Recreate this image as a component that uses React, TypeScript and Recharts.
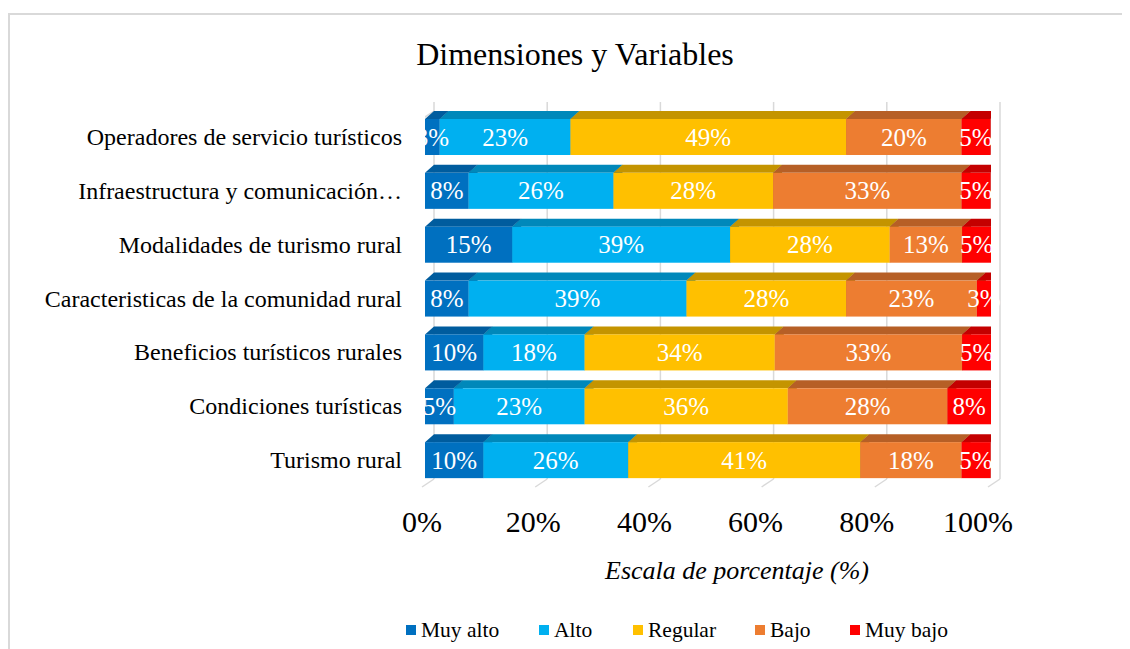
import React from 'react';
import { BarChart, Bar, XAxis, YAxis, CartesianGrid, LabelList } from 'recharts';

const categories = [
  'Operadores de servicio turísticos',
  'Infraestructura y comunicación…',
  'Modalidades de turismo rural',
  'Caracteristicas de la comunidad rural',
  'Beneficios turísticos rurales',
  'Condiciones turísticas',
  'Turismo rural',
];
const muyAlto = [2.6, 7.7, 15.4, 7.7, 10.3, 5.1, 10.3];
const alto = [23.1, 25.6, 38.5, 38.5, 17.9, 23.1, 25.6];
const regular = [48.7, 28.2, 28.2, 28.2, 33.6, 35.9, 41.0];
const bajo = [20.4, 33.3, 12.8, 23.1, 33.1, 28.2, 17.9];
const muyBajo = [5.1, 5.1, 5.1, 2.6, 5.1, 7.7, 5.1];
const xTicks = [0, 20, 40, 60, 80, 100];

const FONT = '"Liberation Serif", "Times New Roman", serif';
const DX = 9;
const DY = 8;
const GRID = '#D9D9D9';

const rows = categories.map((name, i) => ({
  name,
  muyAlto: muyAlto[i],
  alto: alto[i],
  regular: regular[i],
  bajo: bajo[i],
  muyBajo: muyBajo[i],
}));

const series = [
  { key: 'muyAlto', name: 'Muy alto', color: '#0070C0', top: '#005C9E', side: '#004B82' },
  { key: 'alto', name: 'Alto', color: '#00B0F0', top: '#0088BA', side: '#00709A' },
  { key: 'regular', name: 'Regular', color: '#FFC000', top: '#C49400', side: '#A37B00' },
  { key: 'bajo', name: 'Bajo', color: '#ED7D31', top: '#B65F26', side: '#9A501F' },
  { key: 'muyBajo', name: 'Muy bajo', color: '#FF0000', top: '#C40000', side: '#A00000' },
];

const make3D = (s: any, first: boolean) => (props: any) => {
  const { x, y, width, height, index, background } = props;
  if (width == null || height == null) return <g />;
  const w = Math.max(0, width);
  const parts: any[] = [];
  if (first && background) {
    const bx = background.x;
    const yb = background.y + background.height;
    parts.push(
      <line key="wb" x1={bx - 3} y1={yb} x2={bx + DX} y2={yb - DY} stroke={GRID} strokeWidth={1.5} />
    );
    if (index === 0) {
      parts.push(
        <line key="wt" x1={bx - 3} y1={background.y} x2={bx + DX} y2={background.y - DY} stroke={GRID} strokeWidth={1.5} />
      );
    }
  }
  return (
    <g>
      {parts}
      <polygon
        points={`${x},${y} ${x + DX},${y - DY} ${x + w + DX},${y - DY} ${x + w},${y}`}
        fill={s.top}
      />
      <polygon
        points={`${x + w},${y} ${x + w + DX},${y - DY} ${x + w + DX},${y + height - DY} ${x + w},${y + height}`}
        fill={s.side}
      />
      <rect x={x} y={y} width={w} height={height} fill={s.color} />
    </g>
  );
};

const makeLabel = (first: boolean, key: string) => (p: any) => {
  const { x, y, width, height, value, index } = p;
  const cx = x + width / 2;
  const cy = y + height / 2;
  const id = `clip-${key}-${index}`;
  return (
    <g>
      {first && (
        <defs>
          <clipPath id={id}>
            <rect x={x} y={y - 20} width={400} height={height + 40} />
          </clipPath>
        </defs>
      )}
      <text
        x={cx}
        y={cy}
        textAnchor="middle"
        dominantBaseline="central"
        fill="#FFFFFF"
        fontSize={25}
        fontFamily={FONT}
        clipPath={first ? `url(#${id})` : undefined}
      >
        {`${Math.round(value)}%`}
      </text>
    </g>
  );
};

const gridV = (props: any) => {
  const { x1, y1, y2, index } = props;
  return (
    <g key={`gv-${index}`}>
      <line x1={x1 + DX} y1={y1 - DY} x2={x1 + DX} y2={y2 - DY} stroke={GRID} strokeWidth={1.5} />
      <line x1={x1 - 3} y1={y2} x2={x1 + DX} y2={y2 - DY} stroke={GRID} strokeWidth={1.5} />
    </g>
  );
};

const XTick = (props: any) => {
  const { x, y, payload } = props;
  return (
    <text
      x={x - 3 - payload.value * 0.1}
      y={y + 26}
      textAnchor="middle"
      dominantBaseline="central"
      fontSize={30}
      fontFamily={FONT}
      fill="#000"
    >
      {`${payload.value}%`}
    </text>
  );
};

const YTick = (props: any) => {
  const { x, y, payload } = props;
  return (
    <text
      x={x - 15}
      y={y}
      textAnchor="end"
      dominantBaseline="central"
      fontSize={24}
      fontFamily={FONT}
      fill="#000"
    >
      {payload.value}
    </text>
  );
};

const legendWidths = [133, 94, 122, 95, 110];

export default function App() {
  return (
    <div style={{ paddingTop: 5 }}>
      <div
        style={{
          position: 'relative',
          width: 1120,
          height: 634,
          borderTop: `2px solid ${GRID}`,
          borderLeft: `2px solid ${GRID}`,
          fontFamily: FONT,
          color: '#000',
          overflow: 'hidden',
        }}
      >
        <div
          style={{
            position: 'absolute',
            top: 19,
            left: 0,
            width: 1130,
            textAlign: 'center',
            fontSize: 32,
            lineHeight: '40px',
            whiteSpace: 'nowrap',
          }}
        >
          Dimensiones y Variables
        </div>
        <BarChart
          width={1120}
          height={634}
          data={rows}
          layout="vertical"
          margin={{ top: 95, right: 139, bottom: 132, left: 0 }}
          barSize={36}
        >
          <CartesianGrid horizontal={false} vertical={gridV} />
          <XAxis
            type="number"
            domain={[0, 100]}
            ticks={xTicks}
            allowDataOverflow
            axisLine={false}
            tickLine={false}
            tick={XTick}
            height={30}
          />
          <YAxis
            type="category"
            dataKey="name"
            width={415}
            axisLine={false}
            tickLine={false}
            tick={YTick}
            interval={0}
          />
          {series.map((s, i) => (
            <Bar
              key={s.key}
              dataKey={s.key}
              name={s.name}
              stackId="a"
              fill={s.color}
              isAnimationActive={false}
              shape={make3D(s, i === 0)}
            >
              <LabelList dataKey={s.key} content={makeLabel(i === 0, s.key)} />
            </Bar>
          ))}
        </BarChart>
        <div
          style={{
            position: 'absolute',
            top: 541,
            left: 477,
            width: 500,
            textAlign: 'center',
            fontSize: 26,
            fontStyle: 'italic',
            lineHeight: '30px',
            whiteSpace: 'nowrap',
          }}
        >
          Escala de porcentaje (%)
        </div>
        <div
          style={{
            position: 'absolute',
            top: 603,
            left: 396,
            display: 'flex',
            alignItems: 'center',
            fontSize: 21.5,
            lineHeight: '24px',
            whiteSpace: 'nowrap',
          }}
        >
          {series.map((s, i) => (
            <div key={s.key} style={{ display: 'flex', alignItems: 'center', width: legendWidths[i], flex: 'none' }}>
              <span style={{ display: 'inline-block', width: 10, height: 10, background: s.color, marginRight: 5 }} />
              <span>{s.name}</span>
            </div>
          ))}
        </div>
      </div>
    </div>
  );
}
